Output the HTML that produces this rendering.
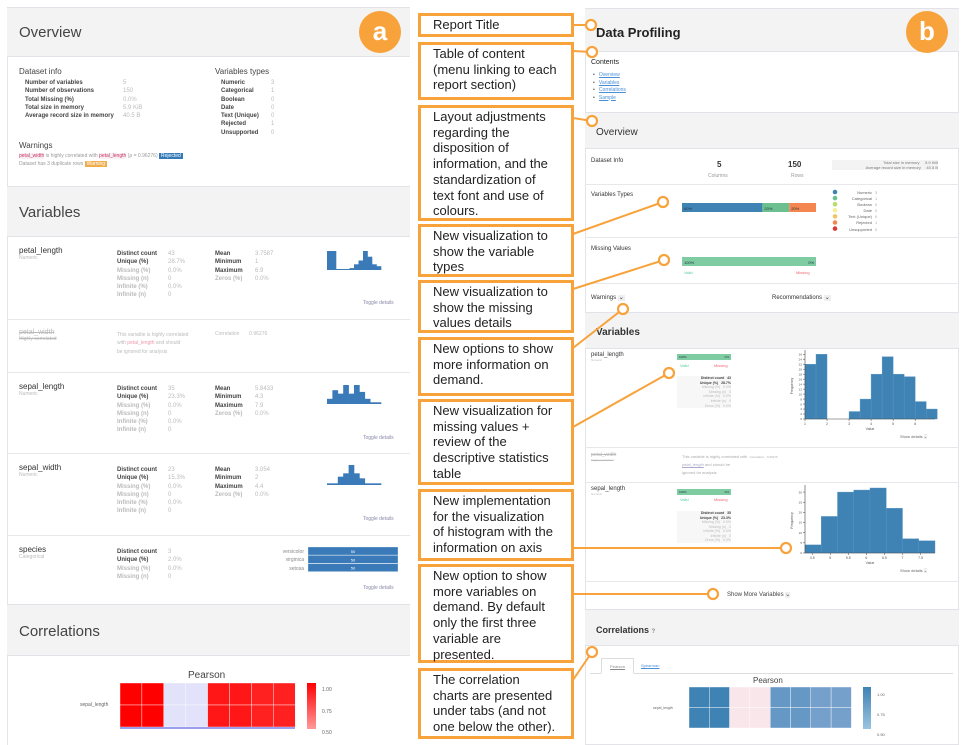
<!DOCTYPE html>
<html><head><meta charset="utf-8">
<style>
*{margin:0;padding:0;box-sizing:border-box}
body{width:966px;height:745px;background:#fff;position:relative;overflow:hidden;font-family:"Liberation Sans",sans-serif;color:#333}
.a{position:absolute;white-space:nowrap}
.hdr{position:absolute;background:#f3f3f3;border-top:1px solid #e2e2e8;border-bottom:1px solid #e2e2e8}
.sm{font-size:6px;color:#444}
.gr{color:#bbb}
.box{position:absolute;left:418px;width:156px;border:3px solid #f7a23a;background:#fff;font-size:13px;line-height:15.7px;padding:1px 0 0 12px;color:#222}
.lnk{color:#4a8fd6;text-decoration:underline}
</style></head><body>
<!-- LEFT PANEL (a) -->
<div class="a" style="left:7px;top:7px;width:403px;height:738px;border-left:1px solid #e4e4e8;border-top:1px solid #e4e4e8"></div>
<div class="hdr" style="left:7px;top:7px;width:403px;height:50px"></div>
<div class="a" style="left:19px;top:24px;font-size:15px;color:#444">Overview</div>
<div class="a" style="left:359px;top:11px;width:42px;height:42px;border-radius:50%;background:#f7a23a;color:#fff;font-weight:bold;font-size:26px;text-align:center;line-height:40px">a</div>
<div class="a" style="left:19px;top:67px;font-size:8px;color:#444">Dataset info</div>
<div class="a sm" style="left:25px;top:79px;line-height:8.3px;font-weight:bold">Number of variables<br>Number of observations<br>Total Missing (%)<br>Total size in memory<br>Average record size in memory</div>
<div class="a sm gr" style="left:123px;top:79px;line-height:8.3px">5<br>150<br>0.0%<br>5.9 KiB<br>40.5 B</div>
<div class="a" style="left:215px;top:67px;font-size:8px;color:#444">Variables types</div>
<div class="a sm" style="left:221px;top:79px;line-height:8.3px;font-weight:bold">Numeric<br>Categorical<br>Boolean<br>Date<br>Text (Unique)<br>Rejected<br>Unsupported</div>
<div class="a sm gr" style="left:271px;top:79px;line-height:8.3px">3<br>1<br>0<br>0<br>0<br>1<br>0</div>
<div class="a" style="left:19px;top:141px;font-size:8px;color:#444">Warnings</div>
<div class="a" style="left:19px;top:153px;font-size:5px;color:#999"><span style="color:#c36;background:#f7f0f3">petal_width</span> is highly correlated with <span style="color:#c36;background:#f7f0f3">petal_length</span> (ρ = 0.96276) <span style="background:#337ab7;color:#fff;padding:0 2px">Rejected</span></div>
<div class="a" style="left:19px;top:161px;font-size:5px;color:#999">Dataset has 3 duplicate rows <span style="background:#f0ad4e;color:#fff;padding:0 2px">Warning</span></div>
<div class="hdr" style="left:7px;top:186px;width:403px;height:51px"></div>
<div class="a" style="left:19px;top:204px;font-size:15px;color:#444">Variables</div>

<div class="a" style="left:19px;top:246px;font-size:8px">petal_length<div style="font-size:5px;color:#bbb">Numeric</div></div>
<div class="a sm" style="left:117px;top:250px;line-height:8.3px;font-weight:bold">Distinct count<br>Unique (%)<br><span class="gr">Missing (%)<br>Missing (n)<br>Infinite (%)<br>Infinite (n)</span></div>
<div class="a sm gr" style="left:168px;top:250px;line-height:8.3px">43<br>28.7%<br>0.0%<br>0<br>0.0%<br>0</div>
<div class="a sm" style="left:215px;top:250px;line-height:8.3px;font-weight:bold">Mean<br>Minimum<br>Maximum<br><span class="gr">Zeros (%)</span></div>
<div class="a sm gr" style="left:255px;top:250px;line-height:8.3px">3.7587<br>1<br>6.9<br>0.0%</div>
<div class="a" style="left:363px;top:300px;font-size:5px;color:#88a">Toggle details</div>

<div class="a" style="left:7px;top:319px;width:403px;border-top:1px solid #e8e8ec"></div>
<div class="a" style="left:19px;top:329px;font-size:7px;color:#bbb;text-decoration:line-through">petal_width<div style="font-size:5px;text-decoration:none">Highly correlated</div></div>
<div class="a" style="left:117px;top:331px;font-size:5px;line-height:8.3px;color:#bbb">This variable is highly correlated<br>with <span style="color:#e9a">petal_length</span> and should<br>be ignored for analysis</div>
<div class="a" style="left:215px;top:331px;font-size:5px;color:#bbb">Correlation &nbsp;&nbsp;&nbsp;&nbsp;&nbsp; 0.96276</div>
<div class="a" style="left:7px;top:372px;width:403px;border-top:1px solid #e8e8ec"></div>

<div class="a" style="left:19px;top:382px;font-size:8px">sepal_length<div style="font-size:5px;color:#bbb">Numeric</div></div>
<div class="a sm" style="left:117px;top:385px;line-height:8.3px;font-weight:bold">Distinct count<br>Unique (%)<br><span class="gr">Missing (%)<br>Missing (n)<br>Infinite (%)<br>Infinite (n)</span></div>
<div class="a sm gr" style="left:168px;top:385px;line-height:8.3px">35<br>23.3%<br>0.0%<br>0<br>0.0%<br>0</div>
<div class="a sm" style="left:215px;top:385px;line-height:8.3px;font-weight:bold">Mean<br>Minimum<br>Maximum<br><span class="gr">Zeros (%)</span></div>
<div class="a sm gr" style="left:255px;top:385px;line-height:8.3px">5.8433<br>4.3<br>7.9<br>0.0%</div>
<div class="a" style="left:363px;top:435px;font-size:5px;color:#88a">Toggle details</div>
<div class="a" style="left:7px;top:453px;width:403px;border-top:1px solid #e8e8ec"></div>

<div class="a" style="left:19px;top:463px;font-size:8px">sepal_width<div style="font-size:5px;color:#bbb">Numeric</div></div>
<div class="a sm" style="left:117px;top:466px;line-height:8.3px;font-weight:bold">Distinct count<br>Unique (%)<br><span class="gr">Missing (%)<br>Missing (n)<br>Infinite (%)<br>Infinite (n)</span></div>
<div class="a sm gr" style="left:168px;top:466px;line-height:8.3px">23<br>15.3%<br>0.0%<br>0<br>0.0%<br>0</div>
<div class="a sm" style="left:215px;top:466px;line-height:8.3px;font-weight:bold">Mean<br>Minimum<br>Maximum<br><span class="gr">Zeros (%)</span></div>
<div class="a sm gr" style="left:255px;top:466px;line-height:8.3px">3.054<br>2<br>4.4<br>0.0%</div>
<div class="a" style="left:363px;top:516px;font-size:5px;color:#88a">Toggle details</div>
<div class="a" style="left:7px;top:535px;width:403px;border-top:1px solid #e8e8ec"></div>

<div class="a" style="left:19px;top:545px;font-size:8px">species<div style="font-size:5px;color:#bbb">Categorical</div></div>
<div class="a sm" style="left:117px;top:548px;line-height:8.3px;font-weight:bold">Distinct count<br>Unique (%)<br><span class="gr">Missing (%)<br>Missing (n)</span></div>
<div class="a sm gr" style="left:168px;top:548px;line-height:8.3px">3<br>2.0%<br>0.0%<br>0</div>
<div class="a" style="left:270px;top:548px;font-size:5px;line-height:8.3px;color:#888;text-align:right;width:34px">versicolor<br>virginica<br>setosa</div>
<div class="a" style="left:363px;top:585px;font-size:5px;color:#88a">Toggle details</div>
<div class="hdr" style="left:7px;top:604px;width:403px;height:52px"></div>
<div class="a" style="left:19px;top:623px;font-size:15px;color:#444">Correlations</div>
<div class="a" style="left:188px;top:670px;font-size:10px;color:#444">Pearson</div>
<div class="a" style="left:80px;top:702px;font-size:5px;color:#666">sepal_length</div>
<div class="a" style="left:322px;top:680px;font-size:5px;line-height:21.5px;color:#666">1.00<br>0.75<br>0.50</div>

<!-- RIGHT PANEL (b) -->
<div class="a" style="left:585px;top:8px;width:374px;height:737px;border:1px solid #e4e4e8"></div>
<div class="hdr" style="left:585px;top:8px;width:374px;height:44px"></div>
<div class="a" style="left:596px;top:25px;font-size:13px;font-weight:bold;color:#222">Data Profiling</div>
<div class="a" style="left:906px;top:11px;width:42px;height:42px;border-radius:50%;background:#f7a23a;color:#fff;font-weight:bold;font-size:26px;text-align:center;line-height:40px">b</div>
<div class="a" style="left:591px;top:59px;font-size:7px;color:#222">Contents</div>
<div class="a" style="left:593px;top:72px;font-size:5px;line-height:7.5px;color:#444">•&nbsp;&nbsp; <span class="lnk">Overview</span><br>•&nbsp;&nbsp; <span class="lnk">Variables</span><br>•&nbsp;&nbsp; <span class="lnk">Correlations</span><br>•&nbsp;&nbsp; <span class="lnk">Sample</span></div>
<div class="hdr" style="left:585px;top:112px;width:374px;height:37px"></div>
<div class="a" style="left:596px;top:127px;font-size:10px;color:#333">Overview</div>
<div class="a" style="left:591px;top:158px;font-size:6px">Dataset Info</div>
<div class="a" style="left:717px;top:160px;font-size:8px;font-weight:bold">5</div>
<div class="a" style="left:708px;top:173px;font-size:5px;color:#999">Columns</div>
<div class="a" style="left:788px;top:160px;font-size:8px;font-weight:bold">150</div>
<div class="a" style="left:791px;top:173px;font-size:5px;color:#999">Rows</div>
<div class="a" style="left:832px;top:160px;width:106px;font-size:4px;line-height:5px;color:#777;text-align:right;background:#f3f3f3">Total size in memory &nbsp;&nbsp;&nbsp; 5.9 KiB<br>Average record size in memory &nbsp;&nbsp;&nbsp; 40.5 B</div>
<div class="a" style="left:585px;top:184px;width:374px;border-top:1px solid #e8e8ec"></div>
<div class="a" style="left:591px;top:192px;font-size:6px">Variables Types</div>
<div class="a" style="left:842px;top:190px;font-size:4px;line-height:6.1px;color:#666;text-align:right;width:30px">Numeric<br>Categorical<br>Boolean<br>Date<br>Text (Unique)<br>Rejected<br>Unsupported</div>
<div class="a" style="left:875px;top:190px;font-size:4px;line-height:6.1px;color:#aaa">3<br>1<br>0<br>0<br>0<br>1<br>0</div>
<div class="a" style="left:585px;top:237px;width:374px;border-top:1px solid #e8e8ec"></div>
<div class="a" style="left:591px;top:246px;font-size:6px">Missing Values</div>
<div class="a" style="left:684px;top:270px;font-size:4px;color:#5c9">Valid</div>
<div class="a" style="left:796px;top:270px;font-size:4px;color:#e67">Missing</div>
<div class="a" style="left:585px;top:283px;width:374px;border-top:1px solid #e8e8ec"></div>
<div class="a" style="left:591px;top:294px;font-size:6px">Warnings <span style="background:#eee;padding:0 1px">⌄</span></div>
<div class="a" style="left:772px;top:294px;font-size:6px">Recommendations <span style="background:#eee;padding:0 1px">⌄</span></div>
<div class="hdr" style="left:585px;top:312px;width:374px;height:37px"></div>
<div class="a" style="left:596px;top:327px;font-size:10px;font-weight:bold;color:#333">Variables</div>

<div class="a" style="left:591px;top:352px;font-size:6px">petal_length<div style="font-size:3px;color:#bbb">Numeric</div></div>
<div class="a" style="left:680px;top:363px;font-size:4px;color:#5c9">Valid</div>
<div class="a" style="left:714px;top:363px;font-size:4px;color:#e67">Missing</div>
<div class="a" style="left:677px;top:376px;width:54px;font-size:3.5px;line-height:4.6px;color:#bbb;text-align:right;background:#f7f7f7"><b style="color:#444">Distinct count &nbsp; 43<br>Unique (%) &nbsp; 28.7%</b><br>Missing (%) &nbsp; 0.0%<br>Missing (n) &nbsp; 0<br>Infinite (%) &nbsp; 0.0%<br>Infinite (n) &nbsp; 0<br>Zeros (%) &nbsp; 0.0%</div>
<div class="a" style="left:900px;top:434px;font-size:4px;color:#666">Show details <span style="background:#eee">⌄</span></div>
<div class="a" style="left:585px;top:447px;width:374px;border-top:1px solid #e8e8ec"></div>
<div class="a" style="left:591px;top:452px;font-size:5px;color:#bbb;text-decoration:line-through">petal_width<div style="font-size:3px;text-decoration:none">Highly correlated</div></div>
<div class="a" style="left:682px;top:453px;font-size:4px;line-height:8px;color:#aaa">This variable is highly correlated with &nbsp;<span style="font-size:3px">Correlation &nbsp; 0.96276</span><br><span class="lnk" style="color:#aac">petal_length</span> and should be<br>ignored for analysis</div>
<div class="a" style="left:585px;top:482px;width:374px;border-top:1px solid #e8e8ec"></div>
<div class="a" style="left:591px;top:486px;font-size:6px">sepal_length<div style="font-size:3px;color:#bbb">Numeric</div></div>
<div class="a" style="left:680px;top:497px;font-size:4px;color:#5c9">Valid</div>
<div class="a" style="left:714px;top:497px;font-size:4px;color:#e67">Missing</div>
<div class="a" style="left:677px;top:511px;width:54px;font-size:3.5px;line-height:4.5px;color:#bbb;text-align:right;background:#f7f7f7"><b style="color:#444">Distinct count &nbsp; 35<br>Unique (%) &nbsp; 23.3%</b><br>Missing (%) &nbsp; 0.0%<br>Missing (n) &nbsp; 0<br>Infinite (%) &nbsp; 0.0%<br>Infinite (n) &nbsp; 0<br>Zeros (%) &nbsp; 0.0%</div>
<div class="a" style="left:900px;top:568px;font-size:4px;color:#666">Show details <span style="background:#eee">⌄</span></div>
<div class="a" style="left:585px;top:581px;width:374px;border-top:1px solid #e8e8ec"></div>
<div class="a" style="left:727px;top:591px;font-size:6px;color:#444">Show More Variables <span style="background:#eee">⌄</span></div>
<div class="hdr" style="left:585px;top:609px;width:374px;height:37px"></div>
<div class="a" style="left:596px;top:625px;font-size:9px;font-weight:bold;color:#333">Correlations <span style="font-size:6px;color:#888">?</span></div>
<div class="a" style="left:590px;top:673px;width:363px;border-top:1px solid #ddd"></div>
<div class="a" style="left:601px;top:658px;width:33px;height:16px;border:1px solid #ddd;border-bottom:1px solid #fff;background:#fff;font-size:4px;color:#888;text-align:center;padding-top:5px;text-decoration:underline">Pearson</div>
<div class="a" style="left:641px;top:663px;font-size:4px;text-decoration:underline;color:#4a8fd6">Spearman</div>
<div class="a" style="left:753px;top:676px;font-size:8px;color:#444">Pearson</div>
<div class="a" style="left:653px;top:706px;font-size:3.5px;color:#666">sepal_length</div>
<div class="a" style="left:877px;top:685px;font-size:4px;line-height:20px;color:#666">1.00<br>0.75<br>0.50</div>

<svg id="chart" width="966" height="745" style="position:absolute;left:0;top:0"></svg>

<!-- annotation boxes -->
<div class="box" style="top:13px;height:24px">Report Title</div>
<div class="box" style="top:42px;height:58px">Table of content<br>(menu linking to each<br>report section)</div>
<div class="box" style="top:105px;height:116px">Layout adjustments<br>regarding the<br>disposition of<br>information, and the<br>standardization of<br>text font and use of<br>colours.</div>
<div class="box" style="top:224px;height:53px">New visualization to<br>show the variable<br>types</div>
<div class="box" style="top:280px;height:53px">New visualization to<br>show the missing<br>values details</div>
<div class="box" style="top:337px;height:59px">New options to show<br>more information on<br>demand.</div>
<div class="box" style="top:399px;height:86px">New visualization for<br>missing values +<br>review of the<br>descriptive statistics<br>table</div>
<div class="box" style="top:489px;height:72px">New implementation<br>for the visualization<br>of histogram with the<br>information on axis</div>
<div class="box" style="top:564px;height:99px">New option to show<br>more variables on<br>demand. By default<br>only the first three<br>variable are<br>presented.</div>
<div class="box" style="top:668px;height:71px">The correlation<br>charts are presented<br>under tabs (and not<br>one below the other).</div>

<script>
// Histogram data (right panel)
const petalBinStart = [1,1.5,2,2.5,3,3.5,4,4.5,5,5.5,6,6.5];
const petalCounts = [22,26,0,0,3,8,18,25,18,17,7,4];
const petalXTicks = [1,2,3,4,5,6];
const petalYTicks = [0,2,4,6,8,10,12,14,16,18,20,22,24,26];
const sepalBinStart = [4.3,4.75,5.2,5.65,6.1,6.55,7.0,7.45];
const sepalCounts = [4,18,30,31,32,22,7,6];
const sepalXTicks = [4.5,5.0,5.5,6.0,6.5,7.0,7.5];
const sepalYTicks = [0,5,10,15,20,25,30];
// mini histograms (left panel)
const miniPetal = [10,10,0,0,0,1,3,5,10,7,3,2];
const miniSepalLength = [3,8,6,11,6,11,7,3,1,1];
const miniSepalWidth = [1,1,5,7,12,7,4,1,1,1];
const speciesCats = ["versicolor","virginica","setosa"];
const speciesCounts = [50,50,50];
// overview bars
const typeLabels = ["Numeric","Categorical","Rejected"];
const typeShares = [60,20,20];
const legendColors = ["#3f83b5","#6cc08f","#b8dd6a","#f5ef9a","#f2c36a","#f3874f","#d73b3b"];
const validShare = [100,0];
// heatmaps
const corrLeft = [[1,1,-0.1,-0.1,0.87,0.87,0.82,0.82],[1,1,-0.1,-0.1,0.87,0.87,0.82,0.82]];
const corrRight = [[1,1,-0.1,-0.1,0.87,0.87,0.82,0.82],[1,1,-0.1,-0.1,0.87,0.87,0.82,0.82]];

const svg=document.getElementById('chart');
const NS='http://www.w3.org/2000/svg';
function mk(tag,attrs,parent){const e=document.createElementNS(NS,tag);for(const k in attrs)e.setAttribute(k,attrs[k]);(parent||svg).appendChild(e);return e;}

function hist(x0,x1,y0,y1,dmin,dmax,ymax,starts,counts,bw,xt,yt,name){
  const sx=v=>x0+(v-dmin)/(dmax-dmin)*(x1-x0);
  const sy=v=>y1-v/ymax*(y1-y0);
  starts.forEach((s,i)=>{
    if(counts[i]<=0) return;
    const r=mk('rect',{x:sx(s),y:sy(counts[i]),width:sx(s+bw)-sx(s),height:y1-sy(counts[i]),fill:'#3f83b5',stroke:'#5a96c4','stroke-width':0.4});
    
    
  });
  mk('line',{x1:x0,y1:y1,x2:x1,y2:y1,stroke:'#444','stroke-width':0.6});
  mk('line',{x1:x0,y1:y0-3,x2:x0,y2:y1,stroke:'#444','stroke-width':0.6});
  xt.forEach(t=>{mk('line',{x1:sx(t),y1:y1,x2:sx(t),y2:y1+2,stroke:'#444','stroke-width':0.5});
    const tx=mk('text',{x:sx(t),y:y1+6,'font-size':3.5,'text-anchor':'middle',fill:'#555'});tx.textContent=t;});
  yt.forEach(t=>{mk('line',{x1:x0-2,y1:sy(t),x2:x0,y2:sy(t),stroke:'#444','stroke-width':0.5});
    const tx=mk('text',{x:x0-3,y:sy(t)+1.2,'font-size':3,'text-anchor':'end',fill:'#555'});tx.textContent=t;});
  const lx=mk('text',{x:(x0+x1)/2,y:y1+11,'font-size':3.5,'text-anchor':'middle',fill:'#555'});lx.textContent='Value';
  const ly=mk('text',{x:x0-12,y:(y0+y1)/2,'font-size':3.5,'text-anchor':'middle',fill:'#555',transform:`rotate(-90 ${x0-12} ${(y0+y1)/2})`});ly.textContent='Frequency';
}
hist(805,935,353,419,1,6.9,26.5,petalBinStart,petalCounts,0.5,petalXTicks,petalYTicks,'petal-length-hist');
hist(805,935,488,553,4.3,7.9,32,sepalBinStart,sepalCounts,0.45,sepalXTicks,sepalYTicks,'sepal-length-hist');

function mini(x0,x1,ybot,h,counts,name){
  const mx=Math.max(...counts);const w=(x1-x0)/counts.length;
  counts.forEach((c,i)=>{const hh=Math.max(1,c/mx*h);
    const r=mk('rect',{x:x0+i*w,y:ybot-hh,width:w+0.3,height:hh,fill:'#3a7ab8'});
    
    });
}
mini(327,381,270,19,miniPetal,'mini-hist-petal-length');
mini(327,381,404,19,miniSepalLength,'mini-hist-sepal-length');
mini(327,381,485,20,miniSepalWidth,'mini-hist-sepal-width');
speciesCats.forEach((c,i)=>{const w=speciesCounts[i]/50*90;
  const r=mk('rect',{x:308,y:547+i*8.3,width:w,height:8,fill:'#3a7ab8',stroke:'#fff','stroke-width':0.3});
  
  
  const t=mk('text',{x:308+w/2,y:553+i*8.3,'font-size':4,'text-anchor':'middle',fill:'#fff'});t.textContent=speciesCounts[i];});

// variable type stacked bar
const typeColors=["#3f83b5","#6cc08f","#f3874f"];
let acc=0;
typeShares.forEach((s,i)=>{const x=682+acc/100*134;
  const r=mk('rect',{x:x,y:203,width:s/100*134,height:9,fill:typeColors[i]});
  
  
  const t=mk('text',{x:x+2,y:210,'font-size':4,fill:'#234'});t.textContent=s+'%';acc+=s;});
legendColors.forEach((c,i)=>{const d=mk('circle',{cx:835,cy:192+i*6.1,r:2.3,fill:c});
  
  });
// missing bars
function missBar(x,y,w,h,fs){
  const r=mk('rect',{x:x,y:y,width:validShare[0]/100*w,height:h,fill:'#7fcca3'});
  
  
  const a=mk('text',{x:x+2,y:y+h-2,'font-size':fs,fill:'#234'});a.textContent=validShare[0]+'%';
  const b=mk('text',{x:x+w-2,y:y+h-2,'font-size':fs,fill:'#234','text-anchor':'end'});b.textContent=validShare[1]+'%';
}
missBar(682,257,134,9,4);
missBar(677,354,54,6,3);
missBar(677,489,54,6,3);

// heatmaps
function heat(x0,y0,cw,ch,m,col,name){
  m.forEach((row,ri)=>row.forEach((v,ci)=>{
    const r=mk('rect',{x:x0+ci*cw,y:y0+ri*ch,width:cw,height:ch,fill:col(v),stroke:'#fff','stroke-width':0.4});
    
    }));
}
const redCol=v=>v>0?`rgb(255,${Math.round((1-v)*180)},${Math.round((1-v)*180)})`:'#e2e2fa';
const blueCol=v=>v>0?`rgb(${Math.round(63+(1-v)*300)},${Math.round(131+(1-v)*160)},${Math.round(181+(1-v)*120)})`:'#f8e6ea';
heat(120,683,21.9,22,corrLeft,redCol,'heatmap-cell-a');
mk('rect',{x:120,y:727,width:175,height:2,fill:'#9d9df0'});
heat(689,687,20.3,20.5,corrRight,blueCol,'heatmap-cell-b');
const gl=mk('linearGradient',{id:'gr',x1:0,y1:0,x2:0,y2:1},mk('defs',{}));
mk('stop',{offset:0,'stop-color':'#ff0000'},gl);mk('stop',{offset:1,'stop-color':'#ff9a9a'},gl);
const gb=mk('linearGradient',{id:'gb',x1:0,y1:0,x2:0,y2:1},svg.querySelector('defs'));
mk('stop',{offset:0,'stop-color':'#3f83b5'},gb);mk('stop',{offset:1,'stop-color':'#9cc3de'},gb);
mk('rect',{x:307,y:683,width:9,height:46,fill:'url(#gr)'});
mk('rect',{x:863,y:687,width:8,height:42,fill:'url(#gb)'});

// connectors
const conns=[[573,25,591,25],[573,51,592,52],[573,118,592,121],[573,234,663,202],[573,289,664,260],[573,348,623,309],[573,427,669,373],[573,548,786,548],[573,594,713,594],[573,680,592,652]];
conns.forEach(c=>{
  const l=mk('line',{x1:c[0],y1:c[1],x2:c[2],y2:c[3],stroke:'#f7a23a','stroke-width':2});
  
  
  const ci=mk('circle',{cx:c[2],cy:c[3],r:5,fill:'#fff',stroke:'#f7a23a','stroke-width':2.2});
  
  
});
</script>
</body></html>
